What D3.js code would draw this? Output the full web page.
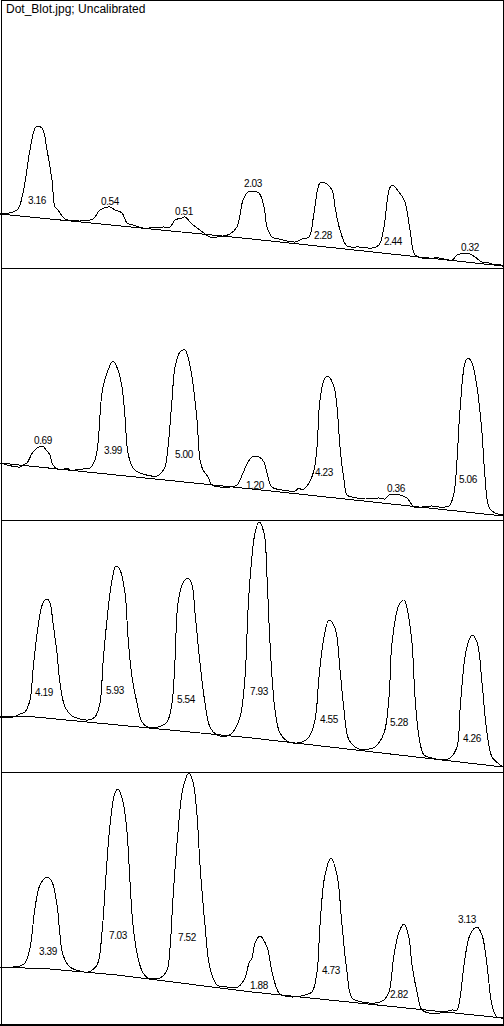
<!DOCTYPE html>
<html>
<head>
<meta charset="utf-8">
<script src="https://cdn.jsdelivr.net/npm/d3@7"></script>
<style>
  html, body { margin: 0; padding: 0; background: #fff; }
  svg { display: block; }
</style>
</head>
<body>
<svg id="chart" width="504" height="1026"></svg>
<script>
// ---------------- DATA ----------------
const title = "Dot_Blot.jpg; Uncalibrated";
const lanes = ["Lane 1", "Lane 2", "Lane 3", "Lane 4"];

// profile: [position along lane, intensity]
const lane1Profile = [[0,54],[17,58],[23,75],[30,118],[36,141],[42,140],[47,118],[52,88],[55,61],[58,58],[65,49],[80,47],[93,49],[100,58],[110,61],[115,58],[122,55],[127,45],[133,43],[143,40],[163,41],[170,41],[175,48],[182,50],[185,51],[192,44],[200,38],[210,31],[217,31],[230,34],[237,41],[243,68],[248,76],[252,77],[259,75],[264,61],[267,41],[272,31],[279,29],[295,26],[302,29],[309,31],[314,55],[320,85],[325,85],[332,78],[335,61],[340,38],[347,22],[359,21],[372,20],[379,23],[384,41],[389,78],[392,83],[399,76],[405,66],[410,38],[415,13],[422,10],[439,10],[452,8],[457,13],[460,14],[470,14],[475,11],[482,6],[489,5],[495,3],[499,4],[503,1]];
const lane2Profile = [[0,57],[20,53],[23,55],[27,57],[33,68],[42,74],[47,69],[50,65],[53,55],[60,50],[67,52],[70,50],[83,51],[90,52],[95,60],[98,77],[102,127],[107,147],[113,159],[118,150],[122,133],[125,103],[128,67],[133,52],[140,47],[157,44],[162,48],[165,53],[168,73],[172,120],[175,153],[180,168],[185,170],[188,163],[192,143],[197,100],[200,60],[203,50],[208,43],[212,35],[220,33],[230,33],[237,35],[243,47],[248,58],[252,63],[259,63],[264,58],[267,47],[272,33],[282,30],[295,29],[299,32],[302,30],[309,37],[314,50],[317,73],[320,120],[325,142],[329,143],[334,133],[337,113],[340,73],[344,40],[347,25],[352,23],[365,21],[379,22],[385,21],[389,25],[394,26],[400,25],[407,22],[414,13],[422,13],[432,14],[439,13],[449,14],[454,27],[457,60],[460,110],[465,157],[468,162],[472,157],[477,133],[482,87],[485,43],[489,13],[495,7],[503,5]];
const lane3Profile = [[0,55],[13,55],[20,58],[25,60],[30,72],[33,102],[38,145],[43,169],[47,173],[50,169],[53,149],[57,119],[60,89],[65,65],[72,56],[80,53],[88,52],[95,55],[100,69],[103,109],[107,152],[112,192],[116,206],[120,202],[125,179],[128,135],[132,95],[137,69],[142,50],[148,45],[158,45],[167,50],[172,69],[175,112],[178,169],[183,189],[188,194],[192,187],[195,159],[200,109],[205,69],[210,45],[217,37],[227,36],[233,40],[240,55],[245,95],[248,162],[251,205],[255,239],[259,250],[264,239],[267,195],[270,129],[275,62],[280,39],[289,30],[302,30],[309,35],[315,52],[319,95],[324,135],[329,152],[335,144],[340,102],[344,62],[349,32],[359,23],[369,23],[375,25],[384,39],[389,75],[392,129],[399,167],[404,172],[407,164],[412,129],[415,75],[419,35],[424,17],[432,14],[442,12],[450,14],[457,25],[460,62],[465,115],[469,132],[472,137],[477,130],[482,89],[487,39],[492,15],[499,8],[503,5]];
const lane4Profile = [[0,57],[13,57],[20,58],[25,61],[30,76],[35,116],[40,139],[47,147],[52,142],[57,119],[60,89],[63,69],[70,57],[80,53],[88,52],[97,59],[102,92],[106,149],[110,199],[115,231],[118,235],[123,222],[127,192],[130,142],[133,99],[138,66],[143,51],[148,46],[160,46],[167,54],[170,76],[173,126],[178,192],[183,236],[189,251],[193,242],[197,209],[200,159],[205,99],[210,56],[217,39],[227,37],[233,36],[238,37],[245,46],[249,61],[252,66],[255,81],[260,88],[267,77],[272,52],[279,31],[285,28],[294,27],[305,29],[312,32],[317,52],[320,99],[325,149],[331,166],[337,149],[342,99],[347,52],[352,26],[362,22],[375,21],[384,24],[389,32],[394,69],[399,92],[404,100],[409,86],[412,59],[417,32],[422,14],[429,11],[440,11],[445,12],[452,14],[457,14],[460,26],[465,66],[470,89],[477,97],[482,89],[487,59],[492,19],[497,7],[503,6]];

// background (baseline) lines drawn under the peaks
const lane1Baseline = [[0,54],[252,29],[503,2]];
const lane2Baseline = [[0,57],[252,31],[503,4]];
const lane3Baseline = [[0,55],[25,56],[252,34],[503,5]];
const lane4Baseline = [[0,57],[50,55],[117,49],[252,32],[503,6]];

// peak area labels: [position, level, text]
const lane1Labels = [[37,68,"3.16"],[110,67,"0.54"],[184,57,"0.51"],[253,85,"2.03"],[323,33,"2.28"],[393,27,"2.44"],[470,21,"0.32"]];
const lane2Labels = [[43,80,"0.69"],[113,70,"3.99"],[184,66,"5.00"],[255,35,"1.20"],[324,48,"4.23"],[396,32,"0.36"],[468,41,"5.06"]];
const lane3Labels = [[44,80,"4.19"],[115,82,"5.93"],[186,73,"5.54"],[259,81,"7.93"],[329,53,"4.55"],[399,50,"5.28"],[472,34,"4.26"]];
const lane4Labels = [[48,73,"3.39"],[118,89,"7.03"],[187,87,"7.52"],[259,39,"1.88"],[331,54,"4.73"],[399,30,"2.82"],[467,105,"3.13"]];

const profiles = [lane1Profile, lane2Profile, lane3Profile, lane4Profile];
const baselines = [lane1Baseline, lane2Baseline, lane3Baseline, lane4Baseline];
const labels = [lane1Labels, lane2Labels, lane3Labels, lane4Labels];

// ---------------- LAYOUT ----------------
const headerH = 16, laneH = 252;
const left = 1, right = 503;

const svg = d3.select("#chart");
const x = d3.scaleLinear().domain([0, 503]).range([0, 503]);
const laneBand = d3.scaleBand().domain(lanes).range([headerH, headerH + laneH * lanes.length]);

// frame
svg.append("rect")
  .attr("x", left + 0.5).attr("y", 0.5)
  .attr("width", right - left).attr("height", 1023.5)
  .attr("fill", "none").attr("stroke", "#000").attr("stroke-width", 1)
  .attr("shape-rendering", "crispEdges");
svg.append("line")
  .attr("x1", 0).attr("x2", right + 1)
  .attr("y1", 1024.5).attr("y2", 1024.5)
  .attr("stroke", "#000").attr("stroke-width", 2)
  .attr("shape-rendering", "crispEdges");

// title
svg.append("text")
  .attr("x", 6).attr("y", 13)
  .attr("font-family", "'Liberation Sans', Arial, sans-serif")
  .attr("font-size", 12)
  .attr("fill", "#000")
  .text(title);

lanes.forEach((lane, i) => {
  const top = laneBand(lane);
  const bottom = top + laneBand.bandwidth();
  const y = d3.scaleLinear().domain([0, 252]).range([bottom, top]);
  const g = svg.append("g");

  if (i < lanes.length - 1) {
    g.append("line")
      .attr("x1", left).attr("x2", right + 1)
      .attr("y1", bottom + 0.5).attr("y2", bottom + 0.5)
      .attr("stroke", "#000").attr("stroke-width", 1)
      .attr("shape-rendering", "crispEdges");
  }

  g.append("path")
    .datum(baselines[i])
    .attr("d", d3.line().x(d => x(d[0])).y(d => y(d[1])).curve(d3.curveLinear))
    .attr("fill", "none").attr("stroke", "#000").attr("stroke-width", 1)
    .attr("shape-rendering", "crispEdges");

  g.append("path")
    .datum(profiles[i])
    .attr("d", d3.line().x(d => x(d[0])).y(d => y(d[1])).curve(d3.curveCatmullRom.alpha(0.5)))
    .attr("fill", "none").attr("stroke", "#000").attr("stroke-width", 1)
    .attr("shape-rendering", "crispEdges");

  g.selectAll("text.lbl")
    .data(labels[i])
    .join("text")
    .attr("class", "lbl")
    .attr("x", d => x(d[0]))
    .attr("y", d => y(d[1]))
    .attr("dy", "0.36em")
    .attr("text-anchor", "middle")
    .attr("font-family", "'Liberation Sans', Arial, sans-serif")
    .attr("font-size", 10)
    .attr("letter-spacing", "-0.4px")
    .attr("fill", "#000")
    .text(d => d[2]);
});
</script>
</body>
</html>
